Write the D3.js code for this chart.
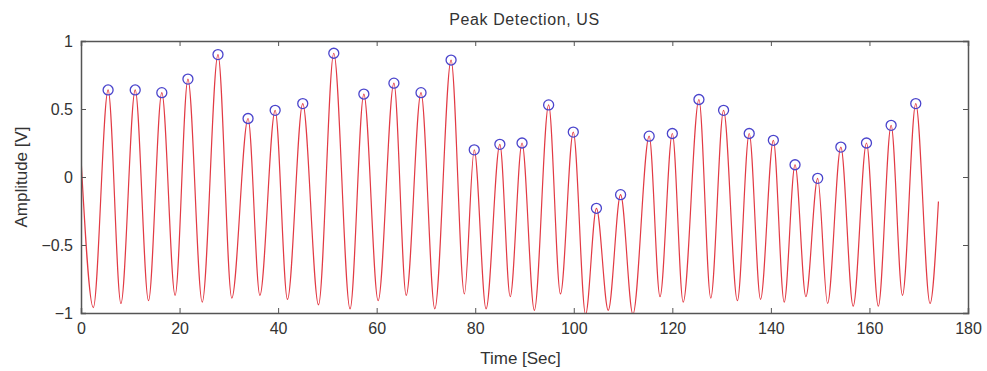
<!DOCTYPE html>
<html>
<head>
<meta charset="utf-8">
<script src="https://cdn.jsdelivr.net/npm/d3@7"></script>
<style>
  body { margin: 0; background: #fff; }
  text { font-family: "Liberation Sans", Arial, sans-serif; fill: #333; }
</style>
</head>
<body>
<div id="chart"></div>
<script>
// detected peaks (time in sec, amplitude in V)
let peakTime = [5.5, 11.0, 16.4, 21.7, 27.8, 33.9, 39.4, 45.0, 51.3, 57.4, 63.5, 69.0, 75.1, 79.8, 85.0, 89.5, 94.9, 99.9,
  104.6, 109.5, 115.3, 120.0, 125.4, 130.4, 135.6, 140.5, 144.9, 149.5, 154.2, 159.4, 164.4, 169.4]
let peakAmp = [0.64, 0.64, 0.62, 0.72, 0.90, 0.43, 0.49, 0.54, 0.91, 0.61, 0.69, 0.62, 0.86, 0.20, 0.24, 0.25, 0.53, 0.33,
  -0.23, -0.13, 0.30, 0.32, 0.57, 0.49, 0.32, 0.27, 0.09, -0.01, 0.22, 0.25, 0.38, 0.54]

// troughs between the peaks
let troughTime = [2.5, 8.1, 13.7, 19.1, 24.6, 30.6, 36.3, 41.9, 48.2, 54.6, 60.3, 66.0, 71.8, 77.8, 82.2, 87.1, 92.0, 97.3,
  102.4, 107.0, 112.0, 117.5, 122.2, 127.8, 133.2, 137.9, 142.7, 147.1, 151.5, 156.7, 161.8, 166.7, 172.3]
let troughAmp = [-0.96, -0.93, -0.91, -0.87, -0.92, -0.89, -0.87, -0.90, -0.94, -0.97, -0.91, -0.87, -0.97, -0.86, -0.97, -0.88, -0.98, -0.86,
  -1.01, -0.98, -1.01, -0.88, -0.92, -0.89, -0.91, -0.90, -0.92, -0.88, -0.93, -0.95, -0.95, -0.87, -0.93]

// first and last samples of the trace
let startPoint = [0, 0.14]
let endPoint = [174.0, -0.18]

let xTicks = [0, 20, 40, 60, 80, 100, 120, 140, 160, 180]
let yTicks = [-1, -0.5, 0, 0.5, 1]

let width = 987, height = 371
let margin = { top: 41, right: 19, bottom: 58, left: 81 }

let svg = d3.select('#chart')
  .append('svg')
  .attr('width', width)
  .attr('height', height)

let x = d3.scaleLinear().domain([0, 180]).range([margin.left, width - margin.right])
let y = d3.scaleLinear().domain([-1, 1]).range([height - margin.bottom, margin.top])

// signal points: start, peaks and troughs merged by time, end
let signal = [startPoint]
peakTime.forEach((t, i) => signal.push([t, peakAmp[i]]))
troughTime.forEach((t, i) => signal.push([t, troughAmp[i]]))
signal.push(endPoint)
signal.sort((a, b) => a[0] - b[0])

svg.append('clipPath').attr('id', 'clip')
  .append('rect')
  .attr('x', x(0)).attr('y', y(1))
  .attr('width', x(180) - x(0)).attr('height', y(-1) - y(1))

let line = d3.line()
  .x(d => x(d[0]))
  .y(d => y(d[1]))
  .curve(d3.curveMonotoneX)

svg.append('path')
  .datum(signal)
  .attr('clip-path', 'url(#clip)')
  .attr('d', line)
  .attr('fill', 'none')
  .attr('stroke', '#e23a44')
  .attr('stroke-width', 1.2)

svg.selectAll('.peak')
  .data(peakTime)
  .enter()
  .append('circle')
  .attr('cx', d => x(d))
  .attr('cy', (d, i) => y(peakAmp[i]))
  .attr('r', 5)
  .attr('fill', 'none')
  .attr('stroke', '#4a44cc')
  .attr('stroke-width', 1.3)

// axes, ticks pointing inwards like matlab
let axisColor = '#555'
svg.append('g')
  .attr('transform', `translate(0,${y(-1)})`)
  .call(d3.axisBottom(x).tickValues(xTicks).tickSize(-5).tickPadding(10).tickFormat(d3.format('d')))
svg.append('g')
  .attr('transform', `translate(0,${y(1)})`)
  .call(d3.axisTop(x).tickValues(xTicks).tickSize(-5).tickFormat(''))
svg.append('g')
  .attr('transform', `translate(${x(0)},0)`)
  .call(d3.axisLeft(y).tickValues(yTicks).tickSize(-5).tickPadding(8).tickFormat(d => d3.format('')(d)))
svg.append('g')
  .attr('transform', `translate(${x(180)},0)`)
  .call(d3.axisRight(y).tickValues(yTicks).tickSize(-5).tickFormat(''))

svg.selectAll('.domain').attr('stroke', axisColor).attr('stroke-width', 1.5)
svg.selectAll('.tick line').attr('stroke', axisColor)
svg.selectAll('.tick text').style('font-size', '16px').attr('fill', '#333')

svg.append('text')
  .attr('x', (x(0) + x(180)) / 2)
  .attr('y', 25)
  .attr('text-anchor', 'middle')
  .style('font-size', '16px')
  .style('letter-spacing', '0.6px')
  .text('Peak Detection, US')

svg.append('text')
  .attr('x', (x(0) + x(180)) / 2 - 4)
  .attr('y', 364)
  .attr('text-anchor', 'middle')
  .style('font-size', '17px')
  .text('Time [Sec]')

svg.append('text')
  .attr('transform', `translate(27,${y(0)}) rotate(-90)`)
  .attr('text-anchor', 'middle')
  .style('font-size', '17px')
  .text('Amplitude [V]')
</script>
</body>
</html>
